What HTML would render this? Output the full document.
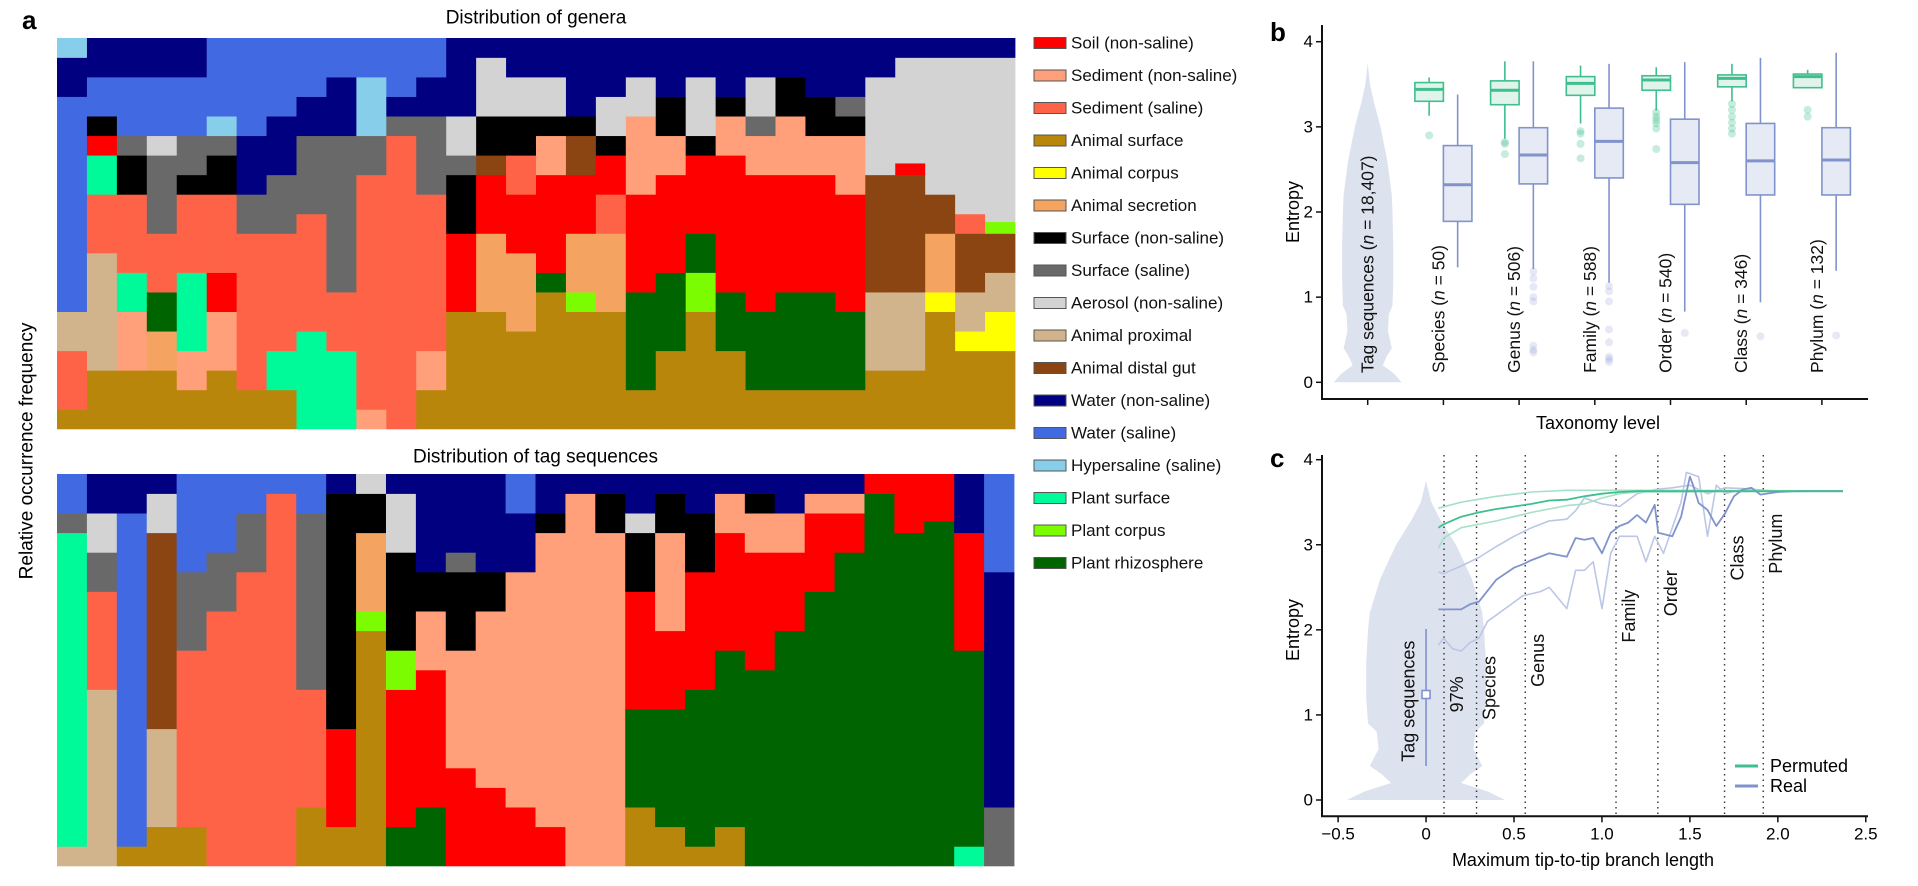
<!DOCTYPE html>
<html><head><meta charset="utf-8"><style>
html,body{margin:0;padding:0;background:#fff;}
svg{display:block;font-family:"Liberation Sans",Arial,sans-serif;}
</style></head><body>
<svg id="fig" width="1918" height="886" viewBox="0 0 1918 886" xmlns="http://www.w3.org/2000/svg">
<g id="pa"></g>
<g id="pb"></g>
<g id="pc"></g>
</svg>
<script>
// ---------- Panel a data ----------
const envNames = ["Soil (non-saline)","Sediment (non-saline)","Sediment (saline)","Animal surface","Animal corpus","Animal secretion","Surface (non-saline)","Surface (saline)","Aerosol (non-saline)","Animal proximal","Animal distal gut","Water (non-saline)","Water (saline)","Hypersaline (saline)","Plant surface","Plant corpus","Plant rhizosphere"];
const envColors = ["#ff0000","#ffa07a","#ff6347","#b8860b","#ffff00","#f4a460","#000000","#696969","#d3d3d3","#d2b48c","#8b4513","#000080","#4169e1","#87ceeb","#00fa9a","#7cfc00","#006400"];
// each column: [category, fraction] bottom->top
const generaCols = [
[[3,.05],[2,.15],[9,.1],[12,.55],[11,.1],[13,.05]],
[[3,.15],[9,.3],[2,.15],[14,.1],[0,.05],[6,.05],[12,.1],[11,.1]],
[[3,.15],[1,.15],[14,.1],[2,.2],[6,.1],[7,.05],[12,.15],[11,.1]],
[[3,.15],[5,.1],[16,.1],[2,.15],[7,.2],[8,.05],[12,.15],[11,.1]],
[[3,.1],[1,.1],[14,.2],[2,.2],[6,.05],[7,.1],[12,.15],[11,.1]],
[[3,.15],[1,.15],[0,.1],[2,.2],[6,.1],[7,.05],[13,.05],[12,.2]],
[[3,.1],[2,.4],[7,.1],[11,.15],[12,.25]],
[[3,.1],[14,.1],[2,.3],[7,.15],[11,.15],[12,.2]],
[[14,.25],[2,.3],[7,.2],[11,.1],[12,.15]],
[[14,.2],[2,.15],[7,.4],[11,.15],[12,.1]],
[[1,.05],[2,.6],[7,.1],[13,.15],[12,.1]],
[[2,.75],[7,.05],[11,.05],[12,.15]],
[[3,.1],[1,.1],[2,.4],[7,.2],[11,.1],[12,.1]],
[[3,.3],[0,.2],[6,.15],[7,.05],[8,.1],[11,.2]],
[[3,.3],[5,.2],[0,.15],[10,.05],[6,.1],[8,.15],[11,.05]],
[[3,.25],[5,.2],[0,.15],[2,.1],[6,.1],[8,.1],[11,.1]],
[[3,.35],[16,.05],[0,.25],[1,.1],[6,.05],[8,.1],[11,.1]],
[[3,.3],[15,.05],[5,.15],[0,.15],[10,.1],[6,.05],[11,.2]],
[[3,.3],[5,.2],[2,.1],[0,.1],[6,.05],[8,.1],[11,.15]],
[[3,.1],[16,.25],[0,.25],[1,.2],[8,.1],[11,.1]],
[[3,.2],[16,.2],[0,.25],[1,.1],[6,.1],[11,.15]],
[[3,.3],[15,.1],[16,.1],[0,.2],[6,.05],[8,.15],[11,.1]],
[[3,.2],[16,.15],[0,.35],[1,.1],[6,.05],[11,.15]],
[[3,.1],[16,.2],[0,.35],[1,.1],[7,.05],[8,.1],[11,.1]],
[[3,.1],[16,.25],[0,.3],[1,.15],[6,.1],[11,.1]],
[[3,.1],[16,.25],[0,.3],[1,.1],[6,.1],[11,.15]],
[[3,.1],[16,.2],[0,.3],[1,.15],[6,.05],[7,.05],[11,.15]],
[[3,.15],[9,.2],[10,.3],[8,.25],[11,.1]],
[[3,.15],[9,.2],[10,.3],[0,.03],[8,.27],[11,.05]],
[[3,.3],[4,.05],[5,.15],[10,.1],[8,.35],[11,.05]],
[[3,.2],[4,.05],[9,.1],[10,.15],[2,.05],[8,.4],[11,.05]],
[[3,.2],[4,.1],[9,.1],[10,.1],[15,.03],[8,.42],[11,.05]]
];
const tagCols = [
[[9,.05],[14,.8],[7,.05],[12,.1]],
[[9,.45],[2,.25],[7,.1],[8,.1],[11,.1]],
[[3,.05],[12,.85],[11,.1]],
[[3,.1],[9,.25],[10,.5],[8,.1],[11,.05]],
[[3,.1],[2,.45],[7,.2],[12,.25]],
[[2,.65],[7,.15],[12,.2]],
[[2,.75],[7,.15],[12,.1]],
[[2,.95],[12,.05]],
[[3,.15],[2,.3],[7,.45],[12,.1]],
[[3,.1],[0,.25],[6,.6],[11,.05]],
[[3,.6],[15,.05],[5,.2],[6,.1],[8,.05]],
[[16,.1],[0,.35],[15,.1],[6,.25],[8,.15],[11,.05]],
[[16,.15],[0,.35],[1,.15],[6,.1],[11,.25]],
[[0,.25],[1,.3],[6,.2],[7,.05],[11,.2]],
[[0,.2],[1,.45],[6,.1],[11,.25]],
[[0,.15],[1,.6],[11,.15],[12,.1]],
[[0,.1],[1,.75],[6,.05],[11,.1]],
[[1,.95],[11,.05]],
[[1,.85],[6,.1],[11,.05]],
[[3,.15],[16,.25],[0,.3],[6,.15],[8,.05],[11,.1]],
[[3,.1],[16,.3],[0,.2],[1,.25],[6,.1],[11,.05]],
[[3,.05],[16,.4],[0,.3],[6,.15],[11,.1]],
[[3,.1],[16,.45],[0,.3],[1,.1],[11,.05]],
[[16,.5],[0,.3],[1,.1],[6,.05],[11,.05]],
[[16,.6],[0,.2],[1,.1],[11,.1]],
[[16,.7],[0,.2],[1,.05],[11,.05]],
[[16,.8],[0,.1],[1,.05],[11,.05]],
[[16,.95],[0,.05]],
[[16,.85],[0,.15]],
[[16,.88],[0,.12]],
[[14,.05],[16,.5],[0,.3],[11,.15]],
[[7,.15],[11,.6],[12,.25]]
];
// ---------- Panel b data ----------
const levels = ["Species","Genus","Family","Order","Class","Phylum"];
const levelN = ["50","506","588","540","346","132"];
const permQ = [[3.13,3.30,3.44,3.52,3.58],[2.86,3.26,3.43,3.54,3.77],[3.04,3.37,3.51,3.59,3.72],[3.19,3.43,3.55,3.60,3.70],[3.30,3.47,3.57,3.61,3.74],[3.46,3.46,3.59,3.62,3.67]];
const realQ = [[1.35,1.89,2.32,2.78,3.38],[1.33,2.33,2.67,2.99,3.77],[1.17,2.40,2.83,3.22,3.74],[0.83,2.09,2.58,3.09,3.76],[0.94,2.20,2.60,3.04,3.81],[1.31,2.20,2.61,2.99,3.87]];
const permOut = [[2.90],[2.80,2.82,2.68],[2.95,2.92,2.80,2.63],[3.17,3.12,3.08,3.04,2.98,2.74],[3.27,3.2,3.12,3.05,2.98,2.92],[3.2,3.12]];
const realOut = [[],[1.3,1.22,1.12,1.0,0.95,0.43,0.38,0.35],[1.13,1.07,0.95,0.62,0.47,0.3,0.27,0.24],[0.58],[0.54],[0.55]];
const tagN = "18,407";
// violin profile (entropy value -> half width in branch-length units)
const violinV = [0,0.1,0.2,0.3,0.4,0.6,0.8,0.9,1.2,1.6,2.0,2.2,2.6,3.0,3.3,3.5,3.75];
const violinW = [0.45,0.35,0.2,0.25,0.32,0.27,0.28,0.33,0.34,0.34,0.33,0.32,0.26,0.17,0.08,0.03,0];
// ---------- Panel c data ----------
const cutX = [0.102,0.287,0.564,1.08,1.318,1.697,1.917];
const cutLabel = ["97%","Species","Genus","Family","Order","Class","Phylum"];
const cutLabelY = [1.03,0.94,1.33,1.85,2.16,2.58,2.66];
const permMidX = [0.07,0.1,0.2,0.3,0.4,0.5,0.6,0.7,0.8,0.9,1.0,1.1,1.2,1.5,2.37];
const permMidY = [3.2,3.24,3.33,3.38,3.42,3.45,3.48,3.52,3.53,3.57,3.6,3.62,3.63,3.63,3.63];
const permHiX = [0.07,0.2,0.4,0.6,0.8,1.0,1.5,2.37];
const permHiY = [3.43,3.5,3.57,3.62,3.64,3.64,3.64,3.63];
const permLoX = [0.07,0.1,0.2,0.4,0.6,0.8,0.9,1.0,1.1,1.2,2.37];
const permLoY = [2.96,3.08,3.2,3.28,3.38,3.46,3.48,3.55,3.6,3.62,3.63];
const realMidX = [0.07,0.2,0.25,0.3,0.4,0.5,0.55,0.6,0.7,0.8,0.85,0.9,0.95,1.0,1.05,1.1,1.15,1.2,1.25,1.3,1.32,1.4,1.45,1.5,1.52,1.55,1.6,1.65,1.7,1.75,1.8,1.85,1.9,2.0,2.1,2.37];
const realMidY = [2.24,2.24,2.3,2.33,2.59,2.73,2.77,2.82,2.9,2.86,3.08,3.06,3.08,2.9,3.14,3.22,3.26,3.35,3.26,3.47,3.14,3.1,3.33,3.8,3.69,3.49,3.41,3.22,3.37,3.57,3.65,3.67,3.59,3.62,3.63,3.63];
const realLoX = [0.07,0.1,0.15,0.2,0.25,0.3,0.35,0.45,0.55,0.65,0.7,0.8,0.85,0.9,0.95,1.0,1.05,1.1,1.2,1.25,1.3,1.35,1.4,1.45,1.48,1.55,1.6,1.65,1.7,1.8,2.0,2.37];
const realLoY = [1.82,1.9,1.78,1.75,1.85,1.9,2.1,2.25,2.4,2.45,2.5,2.25,2.7,2.7,2.8,2.25,2.9,3.1,3.1,2.8,3.1,2.9,3.2,3.5,3.85,3.8,3.1,3.7,3.6,3.65,3.63,3.63];
const realHiX = [0.07,0.1,0.2,0.3,0.4,0.5,0.6,0.7,0.8,0.85,0.9,1.0,1.1,1.2,1.3,1.4,1.5,1.6,1.7,1.8,2.0,2.37];
const realHiY = [2.68,2.66,2.75,2.85,2.98,3.1,3.2,3.28,3.3,3.4,3.55,3.48,3.45,3.6,3.65,3.67,3.7,3.6,3.67,3.66,3.63,3.63];
const cXTicks = [-0.5,0,0.5,1.0,1.5,2.0,2.5];
const cXTickLabels = ["\u22120.5","0","0.5","1.0","1.5","2.0","2.5"];
const yTicks = [0,1,2,3,4];

const NS="http://www.w3.org/2000/svg";
function mk(parent,tag,attrs,text){const e=document.createElementNS(NS,tag);for(const k in attrs)e.setAttribute(k,attrs[k]);if(text!==undefined)e.textContent=text;parent.appendChild(e);return e;}
const GREEN="#3fbf8f",GREEN_L="#a6e1c7",BLUE="#8093cc",BLUE_L="#bcc6e6",VIOL="#dde2ef";

// ---------- Panel a ----------
const pa=document.getElementById('pa');
let t=mk(pa,'text',{x:22,y:29,'font-size':26,'font-weight':'bold'},'a');

t=mk(pa,'text',{x:27,y:451,'font-size':19,'text-anchor':'middle',transform:'rotate(-90 27 451)','dominant-baseline':'central'},'Relative occurrence frequency');

function stackChart(cols,x0,x1,y0,y1,title,titleY,name){
  const g=mk(pa,'g',{});
  
  const tt=mk(g,'text',{x:(x0+x1)/2,y:titleY,'font-size':19,'text-anchor':'middle','dominant-baseline':'central'},title);
  
  const w=(x1-x0)/cols.length,h=y1-y0;
  cols.forEach((col,i)=>{
    const tot=col.reduce((s,c)=>s+c[1],0);let acc=0;
    col.forEach(([cat,f])=>{
      const hh=f/tot*h;
      const r=mk(g,'rect',{x:(x0+i*w).toFixed(2),y:(y1-acc-hh).toFixed(2),width:(w+0.4).toFixed(2),height:(hh+0.3).toFixed(2),fill:envColors[cat]});
      
      acc+=hh;
    });
  });
}
stackChart(generaCols,57,1015,38,429,'Distribution of genera',18,'genera-chart');
stackChart(tagCols,57,1014,474,866,'Distribution of tag sequences',457,'tag-sequence-chart');
const lg=mk(pa,'g',{});

envNames.forEach((n,i)=>{
  const y=43+32.5*i;
  const r=mk(lg,'rect',{x:1034,y:y-5.5,width:32,height:11,fill:envColors[i],stroke:'#555','stroke-width':1});
  
  const tx=mk(lg,'text',{x:1071,y:y,'font-size':17,'dominant-baseline':'central',fill:'#111'},n);
  
});

// ---------- Panel b ----------
const pb=document.getElementById('pb');
const bAx=1322,bY0=382.3,bUnit=85.15,bX0=1367.7,bStep=75.7,bAxisY=399;
const byS=v=>bY0-v*bUnit;
t=mk(pb,'text',{x:1270,y:41,'font-size':26,'font-weight':'bold'},'b');

// violin
function violinPath(cx,ys,scale){
  let right=violinV.map((v,i)=>`${(cx+violinW[i]*scale).toFixed(1)},${ys(v).toFixed(1)}`);
  let left=violinV.slice().reverse().map((v,j)=>{const i=violinV.length-1-j;return `${(cx-violinW[i]*scale).toFixed(1)},${ys(v).toFixed(1)}`;});
  return 'M'+right.join('L')+'L'+left.join('L')+'Z';
}
let p=mk(pb,'path',{d:violinPath(bX0,byS,75.3),fill:VIOL});

function box(g,cx,q,col,fill,w){
  mk(g,'line',{x1:cx,x2:cx,y1:byS(q[0]),y2:byS(q[1]),stroke:col,'stroke-width':1.6});
  mk(g,'line',{x1:cx,x2:cx,y1:byS(q[3]),y2:byS(q[4]),stroke:col,'stroke-width':1.6});
  mk(g,'rect',{x:cx-w/2,y:byS(q[3]),width:w,height:byS(q[1])-byS(q[3]),fill:fill,stroke:col,'stroke-width':1.6});
  mk(g,'line',{x1:cx-w/2,x2:cx+w/2,y1:byS(q[2]),y2:byS(q[2]),stroke:col,'stroke-width':3});
}
levels.forEach((lv,i)=>{
  const tick=bX0+(i+1)*bStep,bw=28.5;
  const gp=mk(pb,'g',{});
  
  permOut[i].forEach(v=>mk(gp,'circle',{cx:tick-bw/2,cy:byS(v),r:4,fill:GREEN,'fill-opacity':0.3}));
  box(gp,tick-bw/2,permQ[i],GREEN,'#e1f4ec',bw);
  const gr=mk(pb,'g',{});
  
  realOut[i].forEach(v=>mk(gr,'circle',{cx:tick+bw/2,cy:byS(v),r:4,fill:BLUE,'fill-opacity':0.2}));
  box(gr,tick+bw/2,realQ[i],BLUE,'#e6eaf5',bw);
  const lx=tick+1,ly=byS(0.11);
  const tx=mk(pb,'text',{x:lx,y:ly,'font-size':17.5,transform:`rotate(-90 ${lx} ${ly})`,fill:'#111'});
  
  mk(tx,'tspan',{},lv+' (');mk(tx,'tspan',{'font-style':'italic'},'n');mk(tx,'tspan',{},' = '+levelN[i]+')');
});
{const lx=bX0+6,ly=byS(0.11);
 const tx=mk(pb,'text',{x:lx,y:ly,'font-size':17.5,transform:`rotate(-90 ${lx} ${ly})`,fill:'#111'});
 
 mk(tx,'tspan',{},'Tag sequences (');mk(tx,'tspan',{'font-style':'italic'},'n');mk(tx,'tspan',{},' = '+tagN+')');}
// axes b
let ax=mk(pb,'path',{d:`M${bAx},25 V${bAxisY} H1868`,stroke:'#111','stroke-width':2,fill:'none'});

yTicks.forEach(v=>{
  mk(pb,'line',{x1:bAx-6,x2:bAx,y1:byS(v),y2:byS(v),stroke:'#111','stroke-width':1.5});
  const tx=mk(pb,'text',{x:bAx-9,y:byS(v),'font-size':17,'text-anchor':'end','dominant-baseline':'central'},String(v));
  
});
for(let i=0;i<7;i++)mk(pb,'line',{x1:bX0+i*bStep,x2:bX0+i*bStep,y1:bAxisY,y2:bAxisY+6,stroke:'#111','stroke-width':1.5});
t=mk(pb,'text',{x:1598,y:423,'font-size':18,'text-anchor':'middle','dominant-baseline':'central'},'Taxonomy level');

t=mk(pb,'text',{x:1293,y:212,'font-size':18,'text-anchor':'middle','dominant-baseline':'central',transform:'rotate(-90 1293 212)'},'Entropy');


// ---------- Panel c ----------
const pc=document.getElementById('pc');
const cX0=1426.05,cXU=175.9,cY0=800,cYU=85.08,cAxisY=816.3;
const cx=v=>cX0+v*cXU, cy=v=>cY0-v*cYU;
t=mk(pc,'text',{x:1270,y:467,'font-size':26,'font-weight':'bold'},'c');

p=mk(pc,'path',{d:violinPath(cX0,cy,cXU),fill:VIOL});

cutX.forEach((v,i)=>{
  const l=mk(pc,'line',{x1:cx(v),x2:cx(v),y1:455,y2:cAxisY,stroke:'#333','stroke-width':1.4,'stroke-dasharray':'1.5 4'});
  
  const lx=cx(v)+19,ly=cy(cutLabelY[i]);
  const tx=mk(pc,'text',{x:lx,y:ly,'font-size':18,transform:`rotate(-90 ${lx} ${ly})`,fill:'#111'},cutLabel[i]);
  
});
// tag sequence marker
mk(pc,'line',{x1:cx(0),x2:cx(0),y1:cy(0.40),y2:cy(2.01),stroke:BLUE,'stroke-width':1.6});
let sq=mk(pc,'rect',{x:cx(0)-4,y:cy(1.24)-4,width:8,height:8,fill:'#fff',stroke:BLUE,'stroke-width':1.6});

{const lx=cx(-0.1)+6,ly=cy(0.45);
 const tx=mk(pc,'text',{x:lx,y:ly,'font-size':18,transform:`rotate(-90 ${lx} ${ly})`,fill:'#111'},'Tag sequences');
 }
function line(xs,ys,col,w,name){
  const pl=mk(pc,'polyline',{points:xs.map((x,i)=>cx(x).toFixed(1)+','+cy(ys[i]).toFixed(1)).join(' '),fill:'none',stroke:col,'stroke-width':w,'stroke-linejoin':'round'});
  
}
line(realLoX,realLoY,BLUE_L,1.6,'real-lower-line');
line(realHiX,realHiY,BLUE_L,1.6,'real-upper-line');
line(permHiX,permHiY,GREEN_L,1.6,'permuted-upper-line');
line(permLoX,permLoY,GREEN_L,1.6,'permuted-lower-line');
line(realMidX,realMidY,BLUE,1.8,'real-median-line');
line(permMidX,permMidY,GREEN,1.8,'permuted-median-line');
ax=mk(pc,'path',{d:`M${bAx},455 V${cAxisY} H1868`,stroke:'#111','stroke-width':2,fill:'none'});

yTicks.forEach(v=>{
  mk(pc,'line',{x1:bAx-6,x2:bAx,y1:cy(v),y2:cy(v),stroke:'#111','stroke-width':1.5});
  const tx=mk(pc,'text',{x:bAx-9,y:cy(v),'font-size':17,'text-anchor':'end','dominant-baseline':'central'},String(v));
  
});
cXTicks.forEach((v,i)=>{
  mk(pc,'line',{x1:cx(v),x2:cx(v),y1:cAxisY,y2:cAxisY+6,stroke:'#111','stroke-width':1.5});
  const tx=mk(pc,'text',{x:cx(v),y:834,'font-size':17,'text-anchor':'middle','dominant-baseline':'central'},cXTickLabels[i]);
  
});
t=mk(pc,'text',{x:1583,y:860,'font-size':18,'text-anchor':'middle','dominant-baseline':'central'},'Maximum tip-to-tip branch length');

t=mk(pc,'text',{x:1293,y:630,'font-size':18,'text-anchor':'middle','dominant-baseline':'central',transform:'rotate(-90 1293 630)'},'Entropy');

const cl=mk(pc,'g',{});

mk(cl,'line',{x1:1735,x2:1758,y1:766,y2:766,stroke:GREEN,'stroke-width':3});
t=mk(cl,'text',{x:1770,y:766,'font-size':18,'dominant-baseline':'central'},'Permuted');

mk(cl,'line',{x1:1735,x2:1758,y1:786,y2:786,stroke:BLUE,'stroke-width':3});
t=mk(cl,'text',{x:1770,y:786,'font-size':18,'dominant-baseline':'central'},'Real');

</script>
</body></html>
